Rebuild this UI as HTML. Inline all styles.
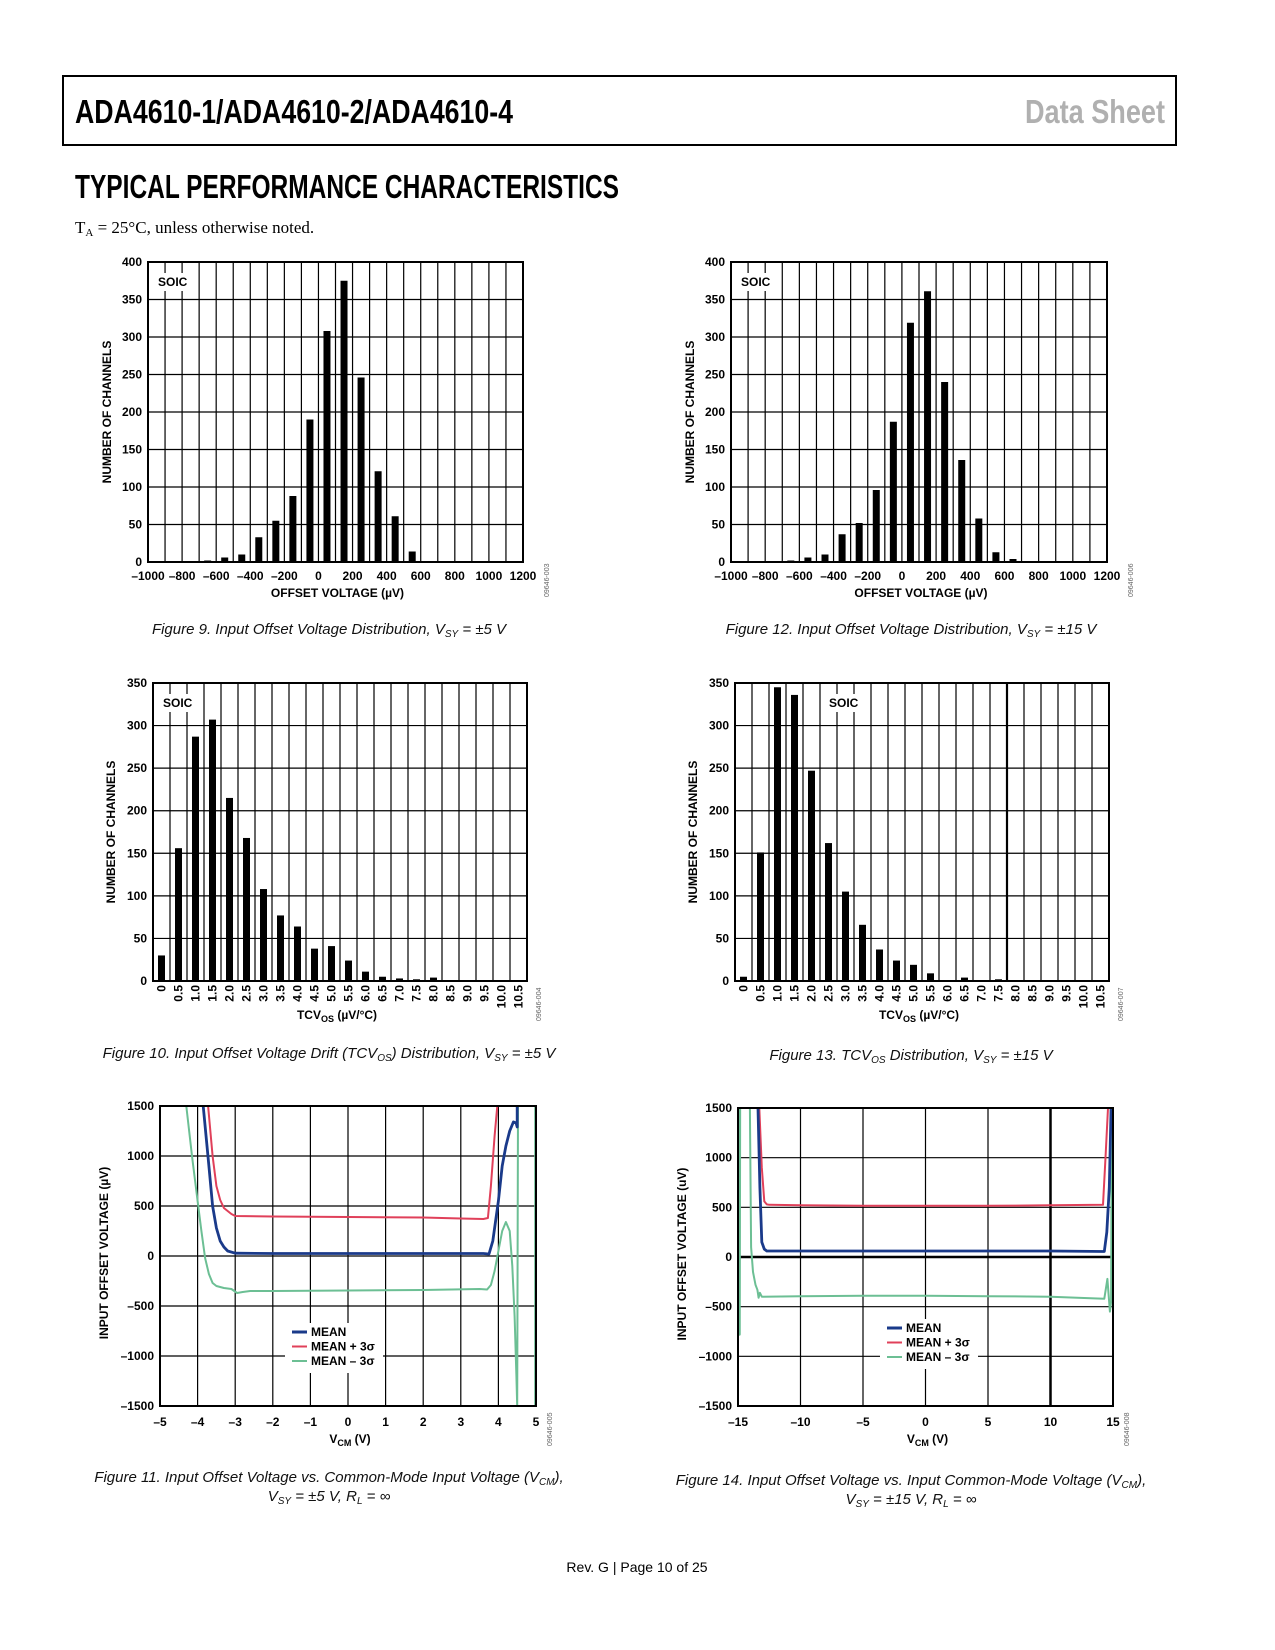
<!DOCTYPE html>
<html><head><meta charset="utf-8"><style>
html,body{margin:0;padding:0;background:#fff;}
svg{display:block;}
.t{font-family:"Liberation Sans",Arial,sans-serif;font-weight:bold;font-size:12px;fill:#000;}
.cap{font-family:"Liberation Sans",sans-serif;font-style:italic;font-size:15px;fill:#111;}
</style></head><body>
<svg id="page" width="1275" height="1650" viewBox="0 0 1275 1650" xmlns="http://www.w3.org/2000/svg">
<rect x="63" y="76" width="1113" height="69" fill="none" stroke="#000" stroke-width="2"/>
<text x="75" y="123" textLength="438" lengthAdjust="spacingAndGlyphs" style="font-family:'Liberation Sans Narrow','Liberation Sans',sans-serif;font-weight:bold;font-size:33px">ADA4610-1/ADA4610-2/ADA4610-4</text>
<text x="1025" y="123" textLength="140" lengthAdjust="spacingAndGlyphs" style="font-family:'Liberation Sans Narrow','Liberation Sans',sans-serif;font-weight:bold;font-size:33px;fill:#b0b0b0">Data Sheet</text>
<text x="75" y="198" textLength="544" lengthAdjust="spacingAndGlyphs" style="font-family:'Liberation Sans Narrow','Liberation Sans',sans-serif;font-weight:bold;font-size:33px">TYPICAL PERFORMANCE CHARACTERISTICS</text>
<text x="75" y="233" style="font-family:'Liberation Serif',serif;font-size:17px">T<tspan font-size="11" dy="3">A</tspan><tspan dy="-3"> = 25°C, unless otherwise noted.</tspan></text>
<g id="charts"></g>
<text class="cap" x="329" y="634" text-anchor="middle">Figure 9. Input Offset Voltage Distribution, V<tspan font-size="10" dy="3">SY</tspan><tspan dy="-3"> = ±5 V</tspan></text>
<text class="cap" x="911" y="634" text-anchor="middle">Figure 12. Input Offset Voltage Distribution, V<tspan font-size="10" dy="3">SY</tspan><tspan dy="-3"> = ±15 V</tspan></text>
<text class="cap" x="329" y="1058" text-anchor="middle">Figure 10. Input Offset Voltage Drift (TCV<tspan font-size="10" dy="3">OS</tspan><tspan dy="-3">) Distribution, V</tspan><tspan font-size="10" dy="3">SY</tspan><tspan dy="-3"> = ±5 V</tspan></text>
<text class="cap" x="911" y="1060" text-anchor="middle">Figure 13. TCV<tspan font-size="10" dy="3">OS</tspan><tspan dy="-3"> Distribution, V</tspan><tspan font-size="10" dy="3">SY</tspan><tspan dy="-3"> = ±15 V</tspan></text>
<text class="cap" x="329" y="1482" text-anchor="middle">Figure 11. Input Offset Voltage vs. Common-Mode Input Voltage (V<tspan font-size="10" dy="3">CM</tspan><tspan dy="-3">),</tspan></text>
<text class="cap" x="329" y="1501" text-anchor="middle">V<tspan font-size="10" dy="3">SY</tspan><tspan dy="-3"> = ±5 V, R</tspan><tspan font-size="10" dy="3">L</tspan><tspan dy="-3"> = ∞</tspan></text>
<text class="cap" x="911" y="1485" text-anchor="middle">Figure 14. Input Offset Voltage vs. Input Common-Mode Voltage (V<tspan font-size="10" dy="3">CM</tspan><tspan dy="-3">),</tspan></text>
<text class="cap" x="911" y="1504" text-anchor="middle">V<tspan font-size="10" dy="3">SY</tspan><tspan dy="-3"> = ±15 V, R</tspan><tspan font-size="10" dy="3">L</tspan><tspan dy="-3"> = ∞</tspan></text>
<text x="637" y="1572" text-anchor="middle" style="font-family:'Liberation Sans',sans-serif;font-size:14px">Rev. G | Page 10 of 25</text>
</svg>
<script>
// ---- Figure 9 data ----
const fig9Bins = [-650,-550,-450,-350,-250,-150,-50,50,150,250,350,450,550,650,750];
const fig9Counts = [2,6,10,33,55,88,190,308,375,246,121,61,14,1,1];
// ---- Figure 12 data ----
const fig12Bins = [-650,-550,-450,-350,-250,-150,-50,50,150,250,350,450,550,650];
const fig12Counts = [2,6,10,37,52,96,187,319,361,240,136,58,13,4];
const offsetTicks = [-1000,-800,-600,-400,-200,0,200,400,600,800,1000,1200];
const countTicks400 = [0,50,100,150,200,250,300,350,400];
// ---- Figure 10 / 13 data ----
const tcvCats = ["0","0.5","1.0","1.5","2.0","2.5","3.0","3.5","4.0","4.5","5.0","5.5","6.0","6.5","7.0","7.5","8.0","8.5","9.0","9.5","10.0","10.5"];
const fig10Counts = [30,156,287,307,215,168,108,77,64,38,41,24,11,5,3,2,4,1,0,0,0,0];
const fig13Counts = [5,151,345,336,247,162,105,66,37,24,19,9,1,4,1,2,0,0,0,0,0,0];
const countTicks350 = [0,50,100,150,200,250,300,350];
// ---- Figure 11 data ----
const fig11MeanX = [-3.85,-3.7,-3.6,-3.5,-3.4,-3.3,-3.2,-3.0,-2.0,0,2,3.0,3.6,3.75,3.85,4.0,4.1,4.2,4.3,4.4,4.47,4.5,4.5];
const fig11MeanY = [1500,900,500,280,150,90,50,28,25,25,25,25,25,20,150,550,900,1100,1250,1340,1330,1290,1500];
const fig11PlusX = [-3.72,-3.6,-3.5,-3.4,-3.3,-3.1,-3.0,-2,0,2,3,3.6,3.72,3.8,3.9,3.97];
const fig11PlusY = [1500,1000,700,560,480,420,400,395,390,385,375,370,380,700,1200,1500];
const fig11MinusX = [-4.3,-4.15,-4.0,-3.9,-3.8,-3.7,-3.6,-3.5,-3.3,-3.1,-2.95,-2.8,-2.6,-2,0,2,3.5,3.7,3.8,3.9,4.0,4.1,4.2,4.3,4.37,4.43,4.48,4.5,4.52];
const fig11MinusY = [1500,1000,550,250,-20,-180,-270,-300,-320,-330,-370,-360,-350,-350,-345,-340,-330,-335,-290,-150,50,250,340,250,-100,-600,-1200,-1500,1500];
const fig11EdgeX = [4.98,4.98];
const fig11EdgeY = [-1500,1500];
// ---- Figure 14 data ----
const fig14MeanX = [-13.4,-13.25,-13.1,-12.9,-12.7,-10,-5,0,5,10,14.3,14.5,14.7,14.85];
const fig14MeanY = [1500,700,150,80,60,60,60,60,60,60,55,250,700,1500];
const fig14PlusX = [-13.3,-13.1,-12.9,-12.7,-12.5,-10,-5,0,5,10,14.2,14.4,14.6];
const fig14PlusY = [1500,900,560,530,525,520,515,515,515,520,525,1000,1500];
const fig14MinusX = [-14.05,-13.95,-13.8,-13.6,-13.45,-13.35,-13.25,-13.1,-10,-5,0,5,10,14.3,14.55,14.75,14.85,14.9];
const fig14MinusY = [1500,100,-150,-280,-330,-410,-360,-400,-395,-390,-390,-395,-400,-420,-220,-550,-450,1500];
const fig14LeftX = [-14.9,-14.88,-14.85];
const fig14LeftY = [1500,-780,1500];
const vcmTicks5 = [-5,-4,-3,-2,-1,0,1,2,3,4,5];
const vcmTicks15 = [-15,-10,-5,0,5,10,15];
const uvTicks = [-1500,-1000,-500,0,500,1000,1500];

const NS = "http://www.w3.org/2000/svg";
const root = document.getElementById('charts');
function el(tag, attrs, parent, txt){
  const e = document.createElementNS(NS, tag);
  for (const k in attrs) e.setAttribute(k, attrs[k]);
  if (txt !== undefined) e.textContent = txt;
  (parent||root).appendChild(e);
  return e;
}
function fmt(v){ return v<0 ? '\u2013'+Math.abs(v) : String(v); }
function frame(g, L, T, R, B){
  const r = el('rect', {x:L, y:T, width:R-L, height:B-T, fill:'none', stroke:'#000', 'stroke-width':2}, g);
  
  
}
function yAxis(g, ticks, ys, L, title, tx, ty){
  ticks.forEach(v=>{
    const t = el('text', {x:L-6, y:ys(v)+4, 'text-anchor':'end', class:'t'}, g, fmt(v));
    
    
  });
  const at = el('text', {x:tx, y:ty, 'text-anchor':'middle', class:'t', transform:`rotate(-90 ${tx} ${ty})`}, g, title);
  
  
}
function code(g, x, y, s){
  const t = el('text', {x:x, y:y, transform:`rotate(-90 ${x} ${y})`, 'font-family':'Liberation Sans,sans-serif', 'font-size':7, fill:'#666'}, g, s);
  
  
}
function soic(g, x, y){
  const r = el('rect', {x:x-4, y:y-13, width:42, height:18, fill:'#fff'}, g);
  
  
  const t = el('text', {x:x, y:y, class:'t', 'font-size':13}, g, 'SOIC');
  
  
}

function offsetHist(name, L, T, R, B, bins, counts, soicX, codeStr){
  const g = el('g', {});
  
  
  const xs = v => L + (v+1000)/2200*(R-L);
  const ys = v => B - v/400*(B-T);
  for (let v=-900; v<1200; v+=100){
    const gl = el('line', {x1:xs(v), x2:xs(v), y1:T, y2:B, stroke:'#000', 'stroke-width':1.2}, g);
    
    
  }
  countTicks400.forEach(v=>{
    const gl = el('line', {x1:L, x2:R, y1:ys(v), y2:ys(v), stroke:'#000', 'stroke-width':1.2}, g);
    
    
  });
  soic(g, soicX, T+24);
  bins.forEach((b,i)=>{
    const r = el('rect', {x:xs(b)-3.5, y:ys(counts[i]), width:7, height:B-ys(counts[i]), fill:'#000'}, g);
    
    
  });
  frame(g, L, T, R, B);
  offsetTicks.forEach(v=>{
    const t = el('text', {x:xs(v), y:B+18, 'text-anchor':'middle', class:'t'}, g, fmt(v));
    
    
  });
  yAxis(g, countTicks400, ys, L, 'NUMBER OF CHANNELS', L-37, (T+B)/2);
  const xt = el('text', {x:(L+R)/2+2, y:B+35, 'text-anchor':'middle', class:'t'}, g, 'OFFSET VOLTAGE (\u00b5V)');
  
  
  code(g, R+26, B+35, codeStr);
}
offsetHist('figure-9-chart', 148, 262, 523, 562, fig9Bins, fig9Counts, 158, '09646-003');
offsetHist('figure-12-chart', 731, 262, 1107, 562, fig12Bins, fig12Counts, 741, '09646-006');

function tcvHist(name, L, T, R, B, counts, soicX, heavyIdx, codeStr){
  const g = el('g', {});
  
  
  const n = tcvCats.length, cw = (R-L)/n;
  const xs = i => L + (i+0.5)*cw;
  const ys = v => B - v/350*(B-T);
  for (let i=1;i<n;i++){
    const gl = el('line', {x1:L+i*cw, x2:L+i*cw, y1:T, y2:B, stroke:'#000', 'stroke-width': i===heavyIdx?2.2:1.2}, g);
    
    
  }
  countTicks350.forEach(v=>{
    const gl = el('line', {x1:L, x2:R, y1:ys(v), y2:ys(v), stroke:'#000', 'stroke-width':1.2}, g);
    
    
  });
  soic(g, soicX, T+24);
  counts.forEach((c,i)=>{
    if (c<=0) return;
    const r = el('rect', {x:xs(i)-3.5, y:ys(c), width:7, height:B-ys(c), fill:'#000'}, g);
    
    
  });
  frame(g, L, T, R, B);
  tcvCats.forEach((c,i)=>{
    const x = xs(i)+4, y = B+4;
    const t = el('text', {x:x, y:y, 'text-anchor':'end', class:'t', transform:`rotate(-90 ${x} ${y})`}, g, c);
    
    
  });
  yAxis(g, countTicks350, ys, L, 'NUMBER OF CHANNELS', L-38, (T+B)/2);
  const xt = el('text', {x:(L+R)/2-3, y:B+38, 'text-anchor':'middle', class:'t'}, g);
  
  
  el('tspan', {}, xt, 'TCV');
  el('tspan', {'font-size':9, dy:3}, xt, 'OS');
  el('tspan', {dy:-3}, xt, ' (\u00b5V/\u00b0C)');
  code(g, R+14, B+40, codeStr);
}
tcvHist('figure-10-chart', 153, 683, 527, 981, fig10Counts, 163, -1, '09646-004');
tcvHist('figure-13-chart', 735, 683, 1109, 981, fig13Counts, 829, 16, '09646-007');

const COLORS = {mean:'#1a3a8a', plus:'#e0405a', minus:'#6cbf94'};
function lineChart(name, L, T, R, B, xmin, xmax, xticks, xGrid, heavyX, heavyY, series, legendX, legendY, codeStr, yTitle){
  const g = el('g', {});
  
  
  const xs = v => L + (v-xmin)/(xmax-xmin)*(R-L);
  const ys = v => B - (v+1500)/3000*(B-T);
  xGrid.forEach(v=>{
    const gl = el('line', {x1:xs(v), x2:xs(v), y1:T, y2:B, stroke:'#000', 'stroke-width': v===heavyX?2.5:1.2}, g);
    
    
  });
  uvTicks.forEach(v=>{
    const gl = el('line', {x1:L, x2:R, y1:ys(v), y2:ys(v), stroke:'#000', 'stroke-width': v===heavyY?2.5:1.2}, g);
    
    
  });
  const cid = name+'-clip';
  const cp = el('clipPath', {id:cid}, g);
  el('rect', {x:L, y:T, width:R-L, height:B-T}, cp);
  const sg = el('g', {'clip-path':`url(#${cid})`}, g);
  series.forEach(s=>{
    const pts = s.x.map((v,i)=>xs(v).toFixed(1)+','+ys(s.y[i]).toFixed(1)).join(' ');
    const p = el('polyline', {points:pts, fill:'none', stroke:s.color, 'stroke-width':s.w||2.2, 'stroke-linejoin':'round'}, sg);
    
    
  });
  const lb = el('rect', {x:legendX-7, y:legendY-13, width:98, height:50, fill:'#fff'}, g);
  
  
  [['mean','MEAN'],['plus','MEAN + 3\u03c3'],['minus','MEAN \u2013 3\u03c3']].forEach((e,i)=>{
    const y = legendY + i*14.5;
    const ln = el('line', {x1:legendX, x2:legendX+15, y1:y-4, y2:y-4, stroke:COLORS[e[0]], 'stroke-width':i===0?3:2}, g);
    
    
    const t = el('text', {x:legendX+19, y:y, class:'t'}, g, e[1]);
    
    
  });
  frame(g, L, T, R, B);
  xticks.forEach(v=>{
    const t = el('text', {x:xs(v), y:B+20, 'text-anchor':'middle', class:'t'}, g, fmt(v));
    
    
  });
  yAxis(g, uvTicks, ys, L, yTitle, L-52, (T+B)/2-3);
  const xt = el('text', {x:(L+R)/2+2, y:B+37, 'text-anchor':'middle', class:'t'}, g);
  
  
  el('tspan', {}, xt, 'V');
  el('tspan', {'font-size':9, dy:3}, xt, 'CM');
  el('tspan', {dy:-3}, xt, ' (V)');
  code(g, R+16, B+40, codeStr);
}
lineChart('figure-11-chart', 160, 1106, 536, 1406, -5, 5, vcmTicks5, vcmTicks5, null, null, [
  {name:'mean-minus-3sigma-line', x:fig11MinusX, y:fig11MinusY, color:COLORS.minus, w:2},
  {name:'mean-minus-3sigma-edge', x:fig11EdgeX, y:fig11EdgeY, color:COLORS.minus, w:2},
  {name:'mean-plus-3sigma-line', x:fig11PlusX, y:fig11PlusY, color:COLORS.plus, w:2},
  {name:'mean-line', x:fig11MeanX, y:fig11MeanY, color:COLORS.mean, w:2.8}
], 292, 1336, '09646-005', 'INPUT OFFSET VOLTAGE (\u00b5V)');
lineChart('figure-14-chart', 738, 1108, 1113, 1406, -15, 15, vcmTicks15, vcmTicks15, 10, 0, [
  {name:'mean-minus-3sigma-line', x:fig14MinusX, y:fig14MinusY, color:COLORS.minus, w:2},
  {name:'mean-minus-3sigma-edge', x:fig14LeftX, y:fig14LeftY, color:COLORS.minus, w:2.5},
  {name:'mean-plus-3sigma-line', x:fig14PlusX, y:fig14PlusY, color:COLORS.plus, w:2},
  {name:'mean-line', x:fig14MeanX, y:fig14MeanY, color:COLORS.mean, w:2.8}
], 887, 1332, '09646-008', 'INPUT OFFSET VOLTAGE (uV)');
</script>
</body></html>
